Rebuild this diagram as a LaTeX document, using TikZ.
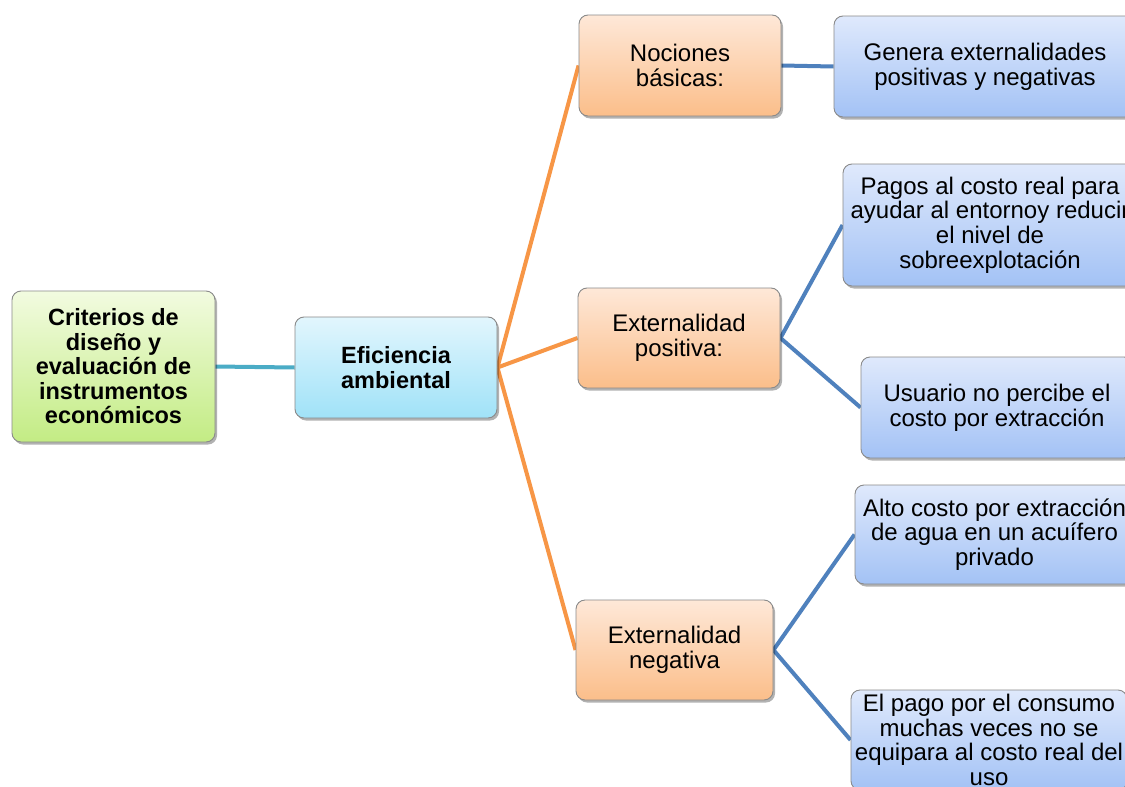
\documentclass[tikz,border=0pt]{standalone}
\usepackage{fontspec}
\setmainfont{Liberation Sans}
\usetikzlibrary{shadows,backgrounds}
\definecolor{bordergray}{HTML}{8A8A8A}
\definecolor{greentop}{HTML}{F2FBE0}
\definecolor{greenbot}{HTML}{C3EC84}
\definecolor{cyantop}{HTML}{E2F6FD}
\definecolor{cyanbot}{HTML}{A0E2F8}
\definecolor{orangetop}{HTML}{FEE8D8}
\definecolor{orangebot}{HTML}{FBBE8A}
\definecolor{bluetop}{HTML}{DFE9FC}
\definecolor{bluebot}{HTML}{A3C2F5}
\definecolor{tealline}{HTML}{4BACC6}
\definecolor{orangeline}{HTML}{F79646}
\definecolor{blueline}{HTML}{4F81BD}
\tikzset{
  box/.style={draw=bordergray, line width=0.9pt, rounded corners=9pt, align=center,
    font=\fontsize{24}{24.8}\selectfont,
    drop shadow={shadow xshift=2pt, shadow yshift=-2.5pt, opacity=0.3, fill=black},
    inner sep=2pt},
  greenbox/.style={box, top color=greentop, bottom color=greenbot},
  cyanbox/.style={box, top color=cyantop, bottom color=cyanbot},
  orangebox/.style={box, top color=orangetop, bottom color=orangebot},
  bluebox/.style={box, top color=bluetop, bottom color=bluebot},
  tealconn/.style={draw=tealline, line width=4pt},
  orangeconn/.style={draw=orangeline, line width=4pt},
  blueconn/.style={draw=blueline, line width=4pt},
}
\begin{document}
\begin{tikzpicture}[x=1pt,y=-1pt]
\useasboundingbox (0,0) rectangle (1125,787);
\clip (0,0) rectangle (1125,787);

\node[greenbox, minimum width=203pt, minimum height=151pt, font=\bfseries\fontsize{23.5}{24.5}\selectfont] (root) at (113.5,366.5)
  {Criterios de\\diseño y\\evaluación de\\instrumentos\\económicos};
\node[cyanbox, minimum width=202pt, minimum height=101pt, font=\bfseries\fontsize{23.5}{24.7}\selectfont] (eff) at (396,367.5)
  {Eficiencia\\ambiental};
\node[orangebox, minimum width=202pt, minimum height=101pt] (noc) at (680,65.5)
  {Nociones\\básicas:};
\node[orangebox, minimum width=202pt, minimum height=100pt] (pos) at (679,338)
  {Externalidad\\positiva:};
\node[orangebox, minimum width=197pt, minimum height=100pt] (neg) at (674.5,650)
  {Externalidad\\negativa};
\node[bluebox, minimum width=302pt, minimum height=101pt] (gen) at (985,66.5)
  {Genera externalidades\\positivas y negativas};
\node[bluebox, minimum width=294pt, minimum height=122pt] (pag) at (990,225)
  {Pagos al costo real para\\ayudar al entornoy reducir\\el nivel de\\sobreexplotación};
\node[bluebox, minimum width=272pt, minimum height=101pt] (usu) at (997,407.5)
  {Usuario no percibe el\\costo por extracción};
\node[bluebox, minimum width=279pt, minimum height=99pt] (alt) at (994.5,534.5)
  {Alto costo por extracción\\de agua en un acuífero\\privado};
\node[bluebox, minimum width=276pt, minimum height=100pt] (pago) at (989,740)
  {El pago por el consumo\\muchas veces no se\\equipara al costo real del\\uso};

\begin{scope}[on background layer]
\fill[white] (0,0) rectangle (1125,787);
\draw[tealconn] (root.east) -- (eff.west);
\draw[orangeconn] (eff.east) -- (noc.west);
\draw[orangeconn] (eff.east) -- (pos.west);
\draw[orangeconn] (eff.east) -- (neg.west);
\draw[blueconn] (noc.east) -- (gen.west);
\draw[blueconn] (pos.east) -- (pag.west);
\draw[blueconn] (pos.east) -- (usu.west);
\draw[blueconn] (neg.east) -- (alt.west);
\draw[blueconn] (neg.east) -- (pago.west);
\end{scope}
\end{tikzpicture}
\end{document}
